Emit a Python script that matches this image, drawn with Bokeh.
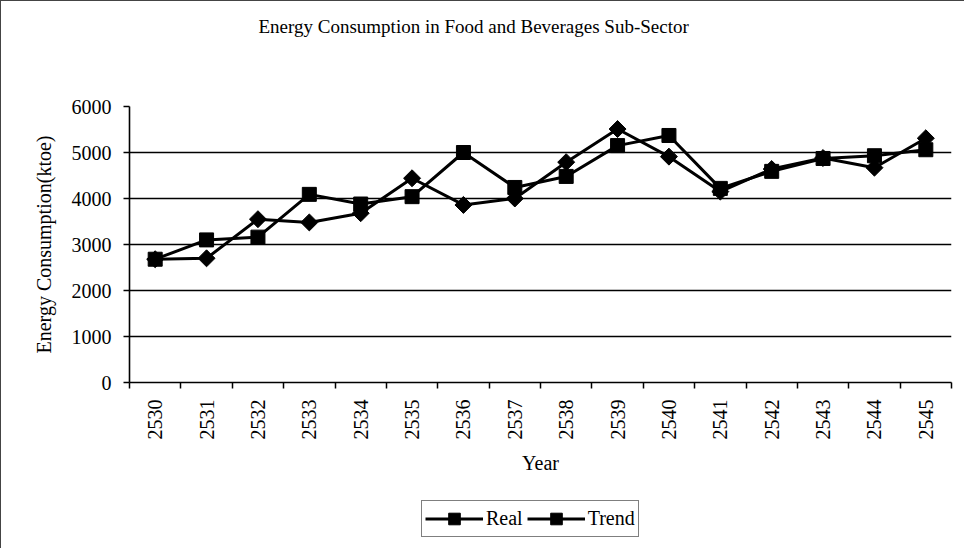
import math
from bokeh.plotting import figure
from bokeh.layouts import column
from bokeh.models import Range1d, FixedTicker, Legend, LegendItem, ColumnDataSource
from bokeh.embed import file_html
from bokeh.resources import INLINE

years = ["2530", "2531", "2532", "2533", "2534", "2535", "2536", "2537",
         "2538", "2539", "2540", "2541", "2542", "2543", "2544", "2545"]
real = [2680, 2700, 3550, 3480, 3680, 4440, 3860, 4000,
        4790, 5510, 4910, 4150, 4640, 4880, 4670, 5310]
trend = [2680, 3100, 3160, 4090, 3880, 4040, 5000, 4240,
         4480, 5150, 5370, 4220, 4590, 4870, 4930, 5060]
y_ticks = [0, 1000, 2000, 3000, 4000, 5000, 6000]
chart_title = "Energy Consumption in Food and Beverages Sub-Sector"
series_names = ["Real", "Trend"]

FONT = "Liberation Serif"
W = 964

xpos = [i + 0.5 for i in range(len(years))]
src = ColumnDataSource(dict(x=xpos, real=real, trend=trend, year=years))

# ---------- title strip ----------
p0 = figure(width=W, height=93, output_backend="svg", toolbar_location=None,
            x_axis_location=None, y_axis_location=None,
            min_border_top=40, min_border_bottom=0, min_border_left=0, min_border_right=0,
            title=chart_title)
p0.grid.visible = False
p0.outline_line_color = None
p0.title.text_font = FONT
p0.title.text_font_size = "19px"
p0.title.text_font_style = "normal"
p0.title.text_color = "black"
p0.title.align = "left"
p0.title.offset = 129

# ---------- main chart ----------
p = figure(frame_width=822, frame_height=276,
           x_range=Range1d(0, len(years)), y_range=Range1d(0, 6000),
           output_backend="svg", toolbar_location=None,
           min_border_left=128, min_border_right=14,
           min_border_top=12, min_border_bottom=110,
           title=None)
p.outline_line_color = None

p.xgrid.visible = False
p.ygrid.ticker = FixedTicker(ticks=y_ticks)
p.ygrid.grid_line_color = "black"
p.ygrid.grid_line_width = 1.6

xa = p.xaxis[0]
xa.ticker = FixedTicker(ticks=xpos, minor_ticks=list(range(len(years) + 1)))
xa.major_label_overrides = {x: y for x, y in zip(xpos, years)}
xa.major_label_orientation = math.pi / 2
xa.major_tick_out = 0
xa.major_tick_in = 0
xa.minor_tick_out = 6
xa.minor_tick_in = 0
xa.minor_tick_line_color = "black"
xa.minor_tick_line_width = 1.5
xa.axis_line_color = "black"
xa.axis_line_width = 1.6
xa.major_label_text_font = FONT
xa.major_label_text_font_size = "20px"
xa.major_label_text_color = "black"
xa.major_label_standoff = 11
xa.axis_label = "Year"
xa.axis_label_text_font = FONT
xa.axis_label_text_font_size = "20px"
xa.axis_label_text_font_style = "normal"
xa.axis_label_text_color = "black"
xa.axis_label_standoff = 9

ya = p.yaxis[0]
ya.ticker = FixedTicker(ticks=y_ticks)
ya.major_tick_out = 6
ya.major_tick_in = 0
ya.minor_tick_line_color = None
ya.major_tick_line_color = "black"
ya.major_tick_line_width = 1.5
ya.axis_line_color = "black"
ya.axis_line_width = 1.6
ya.major_label_text_font = FONT
ya.major_label_text_font_size = "20px"
ya.major_label_text_color = "black"
ya.major_label_standoff = 12
ya.axis_label = "Energy Consumption(ktoe)"
ya.axis_label_text_font = FONT
ya.axis_label_text_font_size = "20px"
ya.axis_label_text_font_style = "normal"
ya.axis_label_text_color = "black"
ya.axis_label_standoff = 14

p.line("x", "real", source=src, line_color="black", line_width=3)
p.scatter("x", "real", source=src, marker="square", angle=math.pi / 4, size=12,
          fill_color="black", line_color="black")
p.line("x", "trend", source=src, line_color="black", line_width=3)
p.scatter("x", "trend", source=src, marker="square", size=14,
          fill_color="black", line_color="black")

# ---------- legend strip ----------
# the series are re-drawn here only to feed the legend; they fall outside
# this strip's ranges so only their legend glyphs are visible
p2 = figure(width=W, height=57, output_backend="svg", toolbar_location=None,
            x_axis_location=None, y_axis_location=None,
            x_range=Range1d(0, len(years)), y_range=Range1d(0, 1),
            min_border_top=0, min_border_bottom=0, min_border_left=0, min_border_right=0,
            title=None)
p2.grid.visible = False
p2.outline_line_color = None
l1 = p2.line("x", "real", source=src, line_color="black", line_width=3)
m1 = p2.scatter("x", "real", source=src, marker="square", angle=math.pi / 4, size=12,
                fill_color="black", line_color="black")
l2 = p2.line("x", "trend", source=src, line_color="black", line_width=3)
m2 = p2.scatter("x", "trend", source=src, marker="square", size=14,
                fill_color="black", line_color="black")

legend = Legend(items=[LegendItem(label=series_names[0], renderers=[l1, m1]),
                       LegendItem(label=series_names[1], renderers=[l2, m2])],
                orientation="horizontal", location=(292, 12))
legend.label_text_font = FONT
legend.label_text_font_size = "20px"
legend.label_text_color = "black"
legend.border_line_color = "black"
legend.border_line_width = 1
legend.padding = 3
legend.spacing = 4
legend.glyph_width = 58
legend.glyph_height = 29
legend.label_standoff = 3
legend.margin = 0
p2.add_layout(legend, "center")

layout = column(p0, p, p2, spacing=0)
layout.styles = {"border": "1px solid #444", "box-sizing": "border-box"}

open("out.html", "w").write(file_html(layout, INLINE))
